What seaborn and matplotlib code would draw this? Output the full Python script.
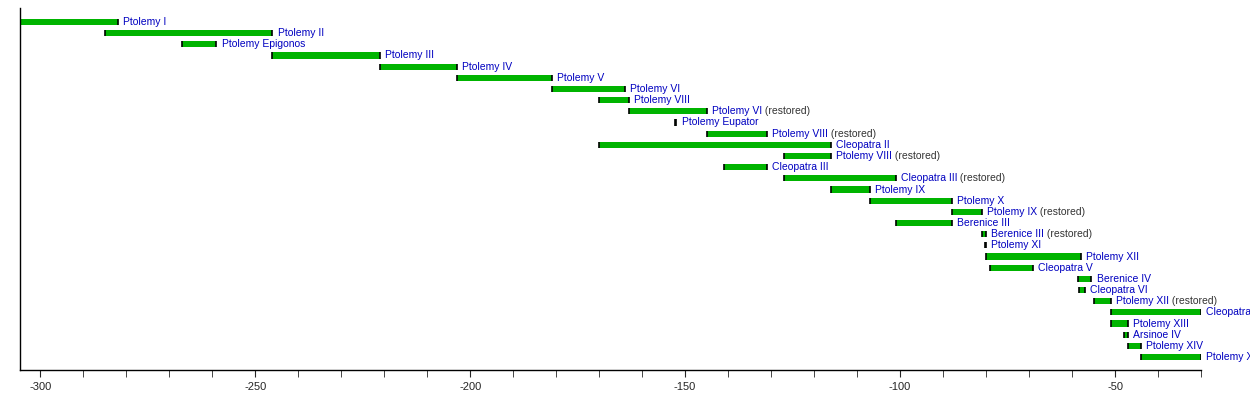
import matplotlib
matplotlib.use("Agg")
import matplotlib.pyplot as plt
import seaborn as sns

names = ["Ptolemy I", "Ptolemy II", "Ptolemy Epigonos", "Ptolemy III", "Ptolemy IV",
         "Ptolemy V", "Ptolemy VI", "Ptolemy VIII", "Ptolemy VI", "Ptolemy Eupator",
         "Ptolemy VIII", "Cleopatra II", "Ptolemy VIII", "Cleopatra III", "Cleopatra III",
         "Ptolemy IX", "Ptolemy X", "Ptolemy IX", "Berenice III", "Berenice III",
         "Ptolemy XI", "Ptolemy XII", "Cleopatra V", "Berenice IV", "Cleopatra VI",
         "Ptolemy XII", "Cleopatra VII", "Ptolemy XIII", "Arsinoe IV", "Ptolemy XIV",
         "Ptolemy XV"]
restored = [0, 0, 0, 0, 0, 0, 0, 0, 1, 0, 1, 0, 1, 0, 1, 0, 0, 1, 0, 1,
            0, 0, 0, 0, 0, 1, 0, 0, 0, 0, 0]
start = [-305, -285, -267, -246, -221, -203, -181, -170, -163, -152.3,
         -145, -170, -127, -141, -127, -116, -107, -88, -101, -81,
         -80.2, -80, -79, -58.5, -58.3, -55, -51, -51, -48, -47, -44]
end = [-282, -246, -259, -221, -203, -181, -164, -163, -145, -152,
       -131, -116, -116, -131, -101, -107, -88, -81, -88, -80,
       -80, -58, -69, -55.5, -57, -51, -30, -47, -47, -44, -30]

sns.set_style("white")
plt.rcParams["font.family"] = ["Liberation Sans", "DejaVu Sans"]
plt.rcParams["axes.unicode_minus"] = False

fig = plt.figure(figsize=(12.5, 4), dpi=100)
ax = fig.add_axes([20 / 1250, 30 / 400, 1181 / 1250, 362 / 400])

y = list(range(len(names)))
width = [e - s for s, e in zip(start, end)]
ax.barh(y, width, left=start, height=0.55, color="#00b400", edgecolor="none")
ax.vlines(start + end, [v - 0.28 for v in y] * 2, [v + 0.28 for v in y] * 2,
          color="black", lw=1.2)

for i in y:
    t = ax.text(end[i] + 1.2, i, names[i], color="#0000c0", fontsize=7.5,
                va="center", ha="left", clip_on=False)
    if restored[i]:
        ax.annotate(" (restored)", xy=(1, 0), xycoords=t, va="bottom",
                    color="#333333", fontsize=7.5, annotation_clip=False)

ax.set_xlim(-304.7, -30)
ax.set_ylim(31.16, -1.25)
ax.set_yticks([])
ax.set_xticks(range(-300, -29, 50))
ax.set_xticks(range(-300, -29, 10), minor=True)
ax.tick_params(axis="x", which="both", direction="out", bottom=True, labelsize=8)
ax.tick_params(axis="x", which="major", length=5)
ax.tick_params(axis="x", which="minor", length=5)
for s in ["top", "right"]:
    ax.spines[s].set_visible(False)
for s in ["left", "bottom"]:
    ax.spines[s].set_color("black")
    ax.spines[s].set_linewidth(1)

fig.savefig("out.png", dpi=100)
